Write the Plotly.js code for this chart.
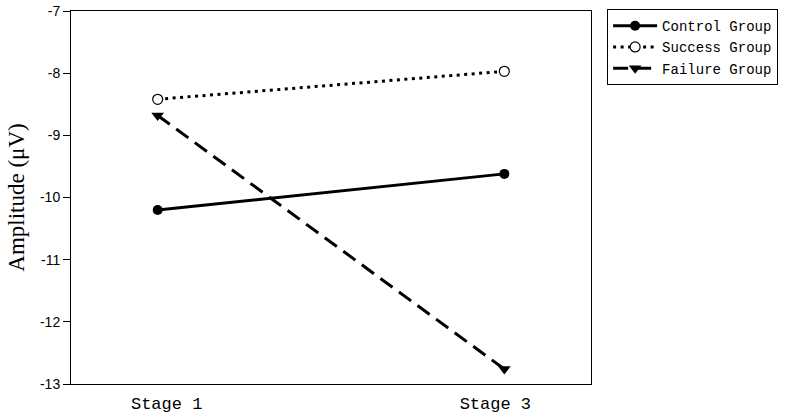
<!DOCTYPE html>
<html><head><meta charset="utf-8">
<script src="https://cdn.plot.ly/plotly-3.0.1.min.js"></script>
<style>body{margin:0;padding:0;background:#fff}#chart{width:787px;height:417px}</style>
</head><body><div id="chart"></div>
<script>
const stages = ["Stage 1", "Stage 3"];
const controlGroup = [-10.2, -9.62];
const successGroup = [-8.42, -7.97];
const failureGroup = [-8.68, -12.76];
const seriesNames = ["Control Group", "Success Group", "Failure Group"];
const yTicks = [-13, -12, -11, -10, -9, -8, -7];
const yTickText = ["-13", "-12", "-11", "-10", "-9", "-8", "-7"];

const monoFont = "Liberation Mono, DejaVu Sans Mono, monospace";
const stageIndex = stages.map((_, i) => i);
const traces = [
  {x: stages, y: controlGroup, name: seriesNames[0], mode: "lines+markers",
   line: {color: "#000", width: 3, dash: "solid"},
   marker: {symbol: "circle", size: 10, color: "#000"}},
  {x: stages, y: successGroup, name: seriesNames[1], mode: "lines+markers",
   line: {color: "#000", width: 3, dash: "3px,4.5px"},
   marker: {symbol: "circle", size: 10, color: "#fff", line: {width: 1.2, color: "#000"}}},
  {x: stages, y: failureGroup, name: seriesNames[2], mode: "lines+markers",
   line: {color: "#000", width: 3, dash: "15px,8px"},
   marker: {symbol: "triangle-down", size: 11, color: "#000"}},
  // carrier for the stage labels axis (draws nothing)
  {x: stageIndex, y: stageIndex.map(() => null), xaxis: "x2", yaxis: "y", mode: "markers",
   showlegend: false, hoverinfo: "skip", marker: {opacity: 0}}
];
const layout = {
  width: 787, height: 417,
  margin: {l: 71, r: 194, t: 9, b: 33},
  paper_bgcolor: "#fff", plot_bgcolor: "#fff",
  showlegend: true,
  legend: {x: 1.031, y: 1.005, xanchor: "left", yanchor: "top",
           bordercolor: "#000", borderwidth: 1, bgcolor: "#fff",
           font: {family: monoFont, size: 14, color: "#000"},
           tracegroupgap: 0, itemwidth: 44},
  xaxis: {type: "category", range: [-0.25, 1.25], showline: true, linecolor: "#000", linewidth: 1,
          mirror: true, ticks: "", showgrid: false, zeroline: false, showticklabels: false},
  xaxis2: {overlaying: "x", side: "bottom", anchor: "y", type: "linear", range: [-0.291, 1.291],
           tickvals: stageIndex, ticktext: stages, ticks: "", showline: false, showgrid: false, zeroline: false,
           ticklabelstandoff: 7,
           tickfont: {family: monoFont, size: 17, color: "#000"}},
  yaxis: {range: [-13, -7], tickvals: yTicks, ticktext: yTickText, showline: true, linecolor: "#000", linewidth: 1,
          mirror: true, ticks: "outside", ticklen: 7, tickcolor: "#000", showgrid: false, zeroline: false,
          ticklabeloverflow: "allow",
          tickfont: {family: "Liberation Sans, Arial, sans-serif", size: 14, color: "#000"},
          title: {text: "Amplitude (μV)", font: {family: "Liberation Serif, Times New Roman, serif", size: 23, color: "#000"}, standoff: 8}}
};
Plotly.newPlot("chart", traces, layout, {displayModeBar: false, staticPlot: true});
</script></body></html>
